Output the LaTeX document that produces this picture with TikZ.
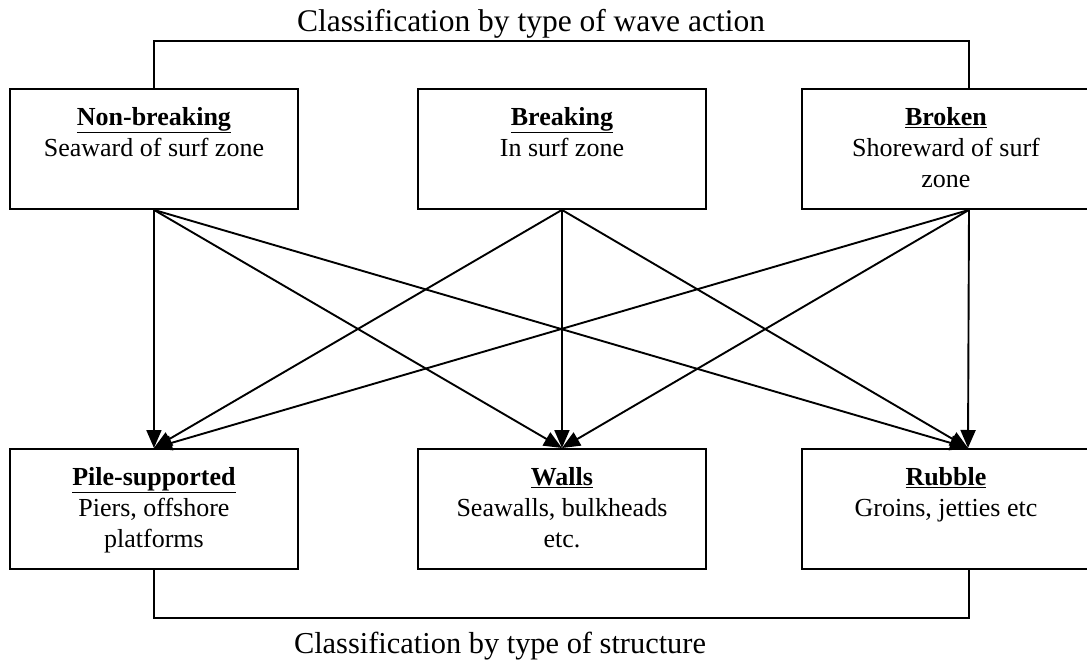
\documentclass[tikz,border=0pt]{standalone}
\usepackage{fontspec}
\setmainfont{Liberation Serif}
\usetikzlibrary{arrows.meta,calc}
\begin{document}
\begin{tikzpicture}[x=1pt,y=-1pt,
  box/.style={draw, line width=1.9pt, minimum width=288pt, minimum height=120pt, anchor=north west, inner sep=0pt},
  lbl/.style={anchor=north, align=center, font=\fontsize{26}{31}\selectfont, inner sep=0pt},
  link/.style={line width=1.9pt},
  arr/.style={line width=1.9pt, -{Triangle[length=18pt,width=15pt]}},
  ttl/.style={anchor=base, inner sep=0pt}]
\useasboundingbox (0,0) rectangle (1087,663);
% top boxes
\node[box] (nb) at (9,88) {};
\node[box] (br) at (417,88) {};
\node[box] (bk) at (801,88) {};
% bottom boxes
\node[box] (ps) at (9,448) {};
\node[box] (wa) at (417,448) {};
\node[box] (ru) at (801,448) {};
% labels
\node[lbl] (nbt) at ($(nb.north)+(0,19)$) {\textbf{\underline{Non-breaking}}\\Seaward of surf zone};
\node[lbl] (brt) at ($(br.north)+(0,19)$) {\textbf{\underline{Breaking}}\\In surf zone};
\node[lbl] (bkt) at ($(bk.north)+(0,19)$) {\textbf{\underline{Broken}}\\Shoreward of surf\\zone};
\node[lbl] (pst) at ($(ps.north)+(0,19)$) {\textbf{\underline{Pile-supported}}\\Piers, offshore\\platforms};
\node[lbl] (wat) at ($(wa.north)+(0,19)$) {\textbf{\underline{Walls}}\\Seawalls, bulkheads\\etc.};
\node[lbl] (rut) at ($(ru.north)+(0,19)$) {\textbf{\underline{Rubble}}\\Groins, jetties etc};
% titles
\node[ttl, font=\fontsize{31.5}{36}\selectfont] (t1) at (531,32) {Classification by type of wave action};
\node[ttl, font=\fontsize{30.4}{36}\selectfont] (t2) at (500,653) {Classification by type of structure};
% anchor coordinates
\coordinate (nbo) at (nb.south);
\coordinate (bro) at (br.south);
\coordinate (bko) at ($(bk.south west)+(168,0)$);
\coordinate (psi) at (ps.north);
\coordinate (wai) at (wa.north);
\coordinate (rui) at ($(ru.north west)+(167,0)$);
\coordinate (bktop) at ($(bk.north west)+(168,0)$);
\coordinate (rubot) at ($(ru.south west)+(168,0)$);
% brackets
\draw[link] (nb.north) -- ++(0,-47) -| (bktop);
\draw[link] (ps.south) -- ++(0,48) -| (rubot);
% arrows
\foreach \s in {nbo,bro,bko}{
  \foreach \t in {psi,wai,rui}{
    \draw[arr] (\s) -- (\t);
  }
}
\end{tikzpicture}
\end{document}
